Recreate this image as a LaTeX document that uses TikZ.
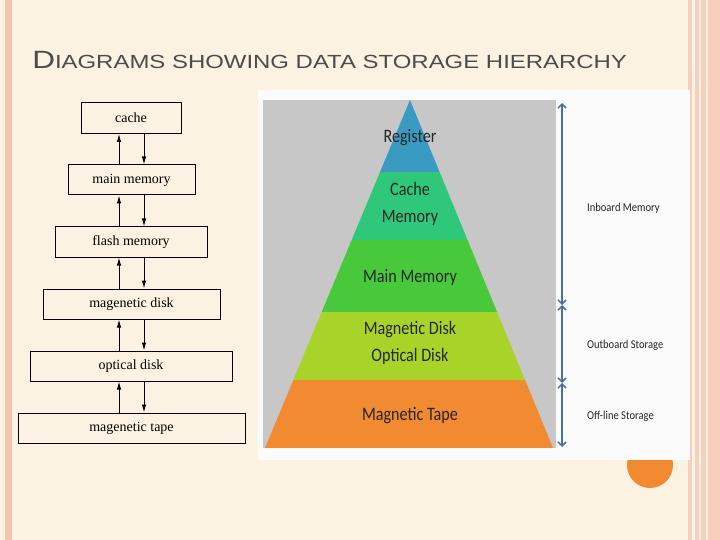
\documentclass[tikz,border=0pt]{standalone}
\usepackage{fontspec}
\setmainfont{Liberation Serif}
\newfontfamily\sans{Liberation Sans}
\newfontfamily\carl{Carlito}
\usetikzlibrary{arrows.meta}
\definecolor{cream}{HTML}{FBF2E2}
\definecolor{pinkb}{HTML}{F6C3AE}
\definecolor{regc}{HTML}{3A9BC2}
\definecolor{cachec}{HTML}{2FC77A}
\definecolor{mainc}{HTML}{48C93C}
\definecolor{diskc}{HTML}{A8D42A}
\definecolor{tapec}{HTML}{F28A32}
\definecolor{arrc}{HTML}{4A6FA5}
\tikzset{mbox/.style={draw,line width=1pt,font=\fontsize{14}{16}\selectfont,inner sep=0pt},
 ar/.style={-{Latex[length=8pt,width=4.5pt]},line width=1pt},
 plab/.style={font=\carl\fontsize{19}{22}\selectfont,text=black!85,align=center,xscale=0.85},
 slab/.style={font=\carl\fontsize{12}{14}\selectfont,anchor=west,xscale=0.88,text=black!85}}
\begin{document}
\begin{tikzpicture}[x=1pt,y=-1pt]
\useasboundingbox (0,0) rectangle (720,540);
\fill[cream] (0,0) rectangle (720,540);
\fill[pinkb] (5,0) rectangle (12,540);
\fill[pinkb!80] (688,0) rectangle (720,540);
\fill[cream] (692,0) rectangle (695,540);
\fill[cream] (699,0) rectangle (701,540);
\fill[cream] (706,0) rectangle (708,540);
\fill[tapec] (650,465) circle (23);
\node[anchor=west,font=\sans\fontsize{25}{28}\selectfont,text=black!70,inner sep=0pt,xscale=1.26] (title) at (32,60) {D\fontsize{19}{22}\selectfont IAGRAMS SHOWING DATA STORAGE HIERARCHY};
% left boxes
\node[mbox,minimum width=100,minimum height=31] (c) at (131,118) {cache};
\node[mbox,minimum width=127,minimum height=30] (m) at (131.5,180) {main memory};
\node[mbox,minimum width=152,minimum height=30] (f) at (131,242) {flash memory};
\node[mbox,minimum width=177,minimum height=30] (d) at (131.5,304) {magenetic disk};
\node[mbox,minimum width=202,minimum height=30] (o) at (131,366) {optical disk};
\node[mbox,minimum width=227,minimum height=30] (t) at (131.5,428) {magenetic tape};
\foreach \a/\b in {c/m,m/f,f/d,d/o,o/t}{
 \draw[ar] (\b.north -| 119,0) -- (\a.south -| 119,0);
 \draw[ar] (\a.south -| 144,0) -- (\b.north -| 144,0);}
% right panel
\fill[white!97!gray] (258,90) rectangle (690,460);
\fill[black!22] (263,100) rectangle (556,448);
\begin{scope}
\clip (410,100) -- (553,448) -- (265,448) -- cycle;
\fill[regc] (260,95) rectangle (560,172);
\fill[cachec] (260,172) rectangle (560,240);
\fill[mainc] (260,240) rectangle (560,312);
\fill[diskc] (260,312) rectangle (560,380);
\fill[tapec] (260,380) rectangle (560,448);
\end{scope}
\node[plab] (r1) at (410,138) {Register};
\node[plab] (r2) at (410,204) {Cache\\[5pt]Memory};
\node[plab] (r3) at (410,277) {Main Memory};
\node[plab] (r4) at (410,343) {Magnetic Disk\\[5pt]Optical Disk};
\node[plab] (r5) at (410,416) {Magnetic Tape};
\coordinate (p0) at (562,103);
\coordinate (p1) at (562,305);
\coordinate (p2) at (562,383);
\coordinate (p3) at (562,447);
\foreach \u/\v in {p0/p1,p1/p2,p2/p3}
 \draw[arrc,line width=1.5pt,{Straight Barb[length=4pt,width=8pt]}-{Straight Barb[length=4pt,width=8pt]}] (\u) -- (\v);
\node[slab] (l1) at (584,208) {Inboard Memory};
\node[slab] (l2) at (584,345) {Outboard Storage};
\node[slab] (l3) at (584,416) {Off-line Storage};
\end{tikzpicture}
\end{document}
